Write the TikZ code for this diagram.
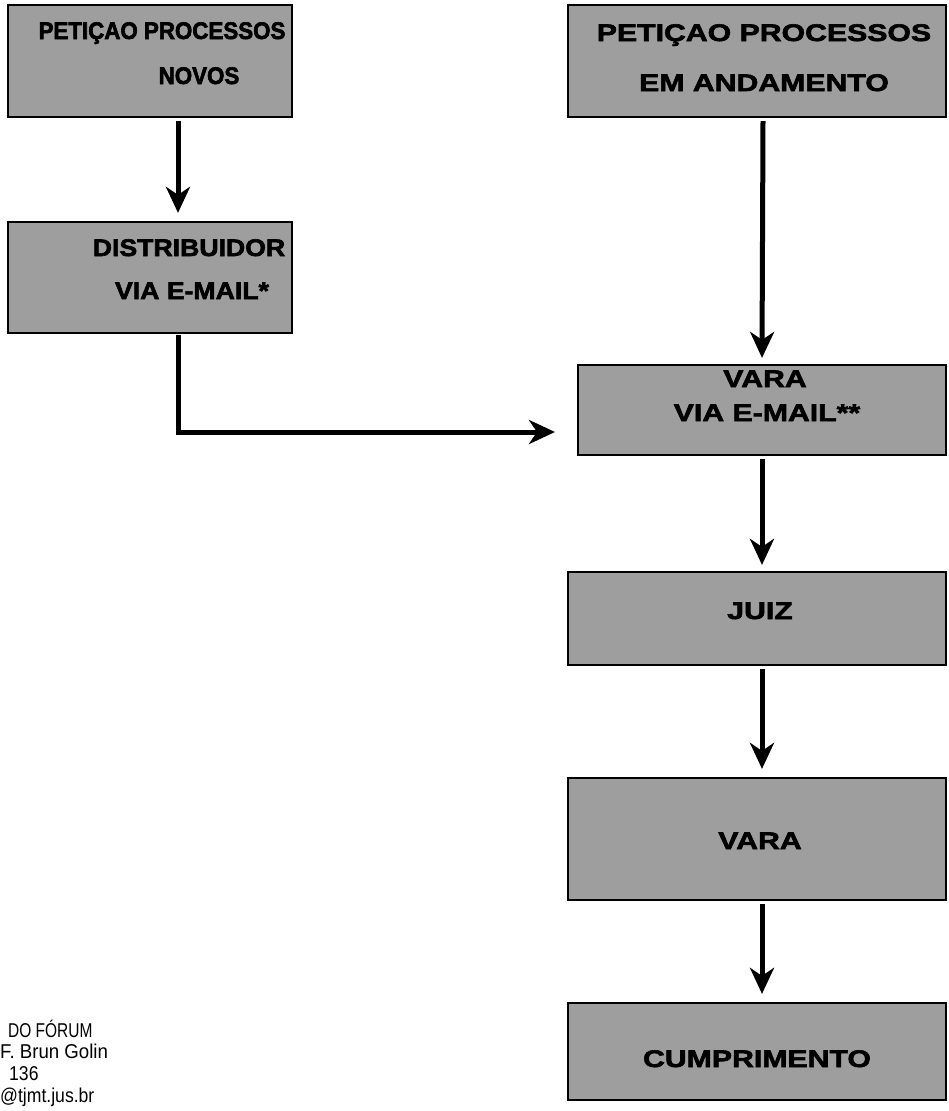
\documentclass[tikz,border=0pt]{standalone}
\usepackage{fontspec}
\setmainfont{Liberation Sans}
\newfontfamily\boxfontA[FakeStretch=0.93,FakeBold=2.5]{Liberation Sans Bold}
\newfontfamily\boxfontB[FakeStretch=1.11,FakeBold=2.5]{Liberation Sans Bold}
\newfontfamily\boxfontC[FakeStretch=1.26,FakeBold=2.5]{Liberation Sans Bold}
\newfontfamily\notefont[FakeStretch=0.88]{Liberation Sans}
\usetikzlibrary{arrows.meta}
\tikzset{
  box/.style={draw=black, line width=2.2pt, fill=black!38, inner sep=0pt},
  lblA/.style={inner sep=0pt, anchor=base, font=\boxfontA\fontsize{24}{24}\selectfont},
  lblB/.style={inner sep=0pt, anchor=base, font=\boxfontB\fontsize{24}{24}\selectfont},
  lblC/.style={inner sep=0pt, anchor=base, font=\boxfontC\fontsize{24}{24}\selectfont},
  arr/.style={line width=5pt, -{Stealth[length=26pt,width=24pt,inset=8pt]}},
  note/.style={font=\notefont\fontsize{20}{21.5}\selectfont, inner sep=0pt, anchor=base west}
}
\begin{document}
\begin{tikzpicture}[x=1pt,y=-1pt]
\useasboundingbox[fill=white] (0,0) rectangle (948,1111);
% boxes
\node[box, minimum width=284pt, minimum height=112pt] (b1) at (150,61) {};
\node[box, minimum width=284pt, minimum height=111pt] (b2) at (150,277.5) {};
\node[box, minimum width=378pt, minimum height=112pt] (b3) at (757,61) {};
\node[box, minimum width=368pt, minimum height=90pt] (b4) at (762,410) {};
\node[box, minimum width=378pt, minimum height=93pt] (b5) at (757,618.5) {};
\node[box, minimum width=378pt, minimum height=122pt] (b6) at (757,839) {};
\node[box, minimum width=378pt, minimum height=97pt] (b7) at (757,1051.5) {};
% labels
\node[lblA] (t1a) at (162,39) {PETIÇAO PROCESSOS};
\node[lblA] (t1b) at (199,84) {NOVOS};
\node[lblB] (t2a) at (189,256) {DISTRIBUIDOR};
\node[lblB] (t2b) at (192,299) {VIA E-MAIL*};
\node[lblC] (t3a) at (764,41) {PETIÇAO PROCESSOS};
\node[lblC] (t3b) at (764,91) {EM ANDAMENTO};
\node[lblC] (t4a) at (765,387) {VARA};
\node[lblC] (t4b) at (767,421) {VIA E-MAIL**};
\node[lblC] (t5) at (760,619) {JUIZ};
\node[lblC] (t6) at (760,849) {VARA};
\node[lblC] (t7) at (757,1067) {CUMPRIMENTO};
% connectors
\coordinate (e4) at (555,432);
\draw[arr] ([xshift=28pt,yshift=-3pt]b1.south) -- ([xshift=28pt,yshift=8pt]b2.north);
\draw[arr] ([xshift=28pt,yshift=-1pt]b2.south) |- (e4);
\draw[arr] ([xshift=6pt,yshift=-3pt]b3.south) -- ([yshift=6pt]b4.north);
\draw[arr] ([yshift=-3pt]b4.south) -- ([xshift=5pt,yshift=6pt]b5.north);
\draw[arr] ([xshift=5pt,yshift=-3pt]b5.south) -- ([xshift=5pt,yshift=8pt]b6.north);
\draw[arr] ([xshift=5pt,yshift=-3pt]b6.south) -- ([xshift=5pt,yshift=8pt]b7.north);
% footnote text
\node[note] (n1) at (8,1037) {\scalebox{0.88}[1]{DO FÓRUM}};
\node[note] (n2) at (0,1058) {\scalebox{1.06}[1]{F. Brun Golin}};
\node[note] (n3) at (9,1080) {136};
\node[note] (n4) at (0,1102) {@tjmt.jus.br};
\end{tikzpicture}
\end{document}
